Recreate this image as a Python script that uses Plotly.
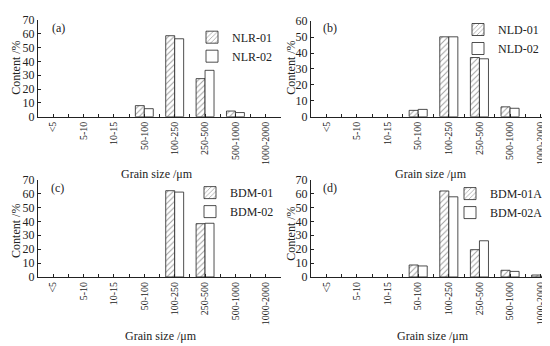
import plotly.graph_objects as go

categories = ["<5", "5-10", "10-15", "50-100", "100-250", "250-500", "500-1000", "1000-2000"]

nlr01 = [0, 0, 0, 8.0, 58.5, 27.5, 4.1, 0]
nlr02 = [0, 0, 0, 5.8, 56.3, 33.5, 3.0, 0]
nld01 = [0, 0, 0, 4.0, 50.2, 37.2, 6.2, 0]
nld02 = [0, 0, 0, 4.6, 50.2, 36.4, 5.3, 0]
bdm01 = [0, 0, 0, 0, 62.0, 38.3, 0, 0]
bdm02 = [0, 0, 0, 0, 61.0, 38.6, 0, 0]
bdm01a = [0, 0, 0, 8.6, 61.8, 19.6, 4.8, 1.4]
bdm02a = [0, 0, 0, 7.9, 57.6, 26.0, 4.0, 0.5]

panels = [
    ("(a)", "NLR-01", nlr01, "NLR-02", nlr02, 70),
    ("(b)", "NLD-01", nld01, "NLD-02", nld02, 60),
    ("(c)", "BDM-01", bdm01, "BDM-02", bdm02, 70),
    ("(d)", "BDM-01A", bdm01a, "BDM-02A", bdm02a, 70),
]

W, H = 550, 346
boxes = [
    (30, 273, 5, 106),
    (303, 548, 6.5, 106),
    (30, 273, 171.5, 273),
    (303, 548, 171.5, 273),
]
legend_pos = [(184, 8), (450, 0), (182, 170), (442, 171)]
label_pos = [(50, 14), (322, 14), (49, 180), (322, 180)]
ytitle_pos = [(8, 55), (283, 55), (8, 225), (283, 228)]
xtitle_pos = [(149, 166), (423, 166), (153, 335), (425, 335)]

SERIF = "Liberation Serif, Times New Roman, serif"
INK = "#222222"

xidx = list(range(len(categories)))


def nz(vals):
    return [v if v else None for v in vals]


fig = go.Figure()
layout = dict(
    width=W, height=H, margin=dict(l=0, r=0, t=0, b=0),
    paper_bgcolor="white", plot_bgcolor="white",
    font=dict(family=SERIF, size=12, color=INK),
    barmode="group", bargap=0.41, bargroupgap=0.0,
    annotations=[],
)

for i, (lab, n1, v1, n2, v2, ymax) in enumerate(panels):
    k = "" if i == 0 else str(i + 1)
    xa, ya = "x" + k, "y" + k
    leg = "legend" + k
    l, r, t, b = boxes[i]
    fig.add_trace(go.Bar(
        x=xidx, y=nz(v1), name=n1, xaxis=xa, yaxis=ya, legend=leg,
        marker=dict(color="white", line=dict(color=INK, width=0.8),
                    pattern=dict(shape="/", fgcolor="#444444", bgcolor="white",
                                 size=4, solidity=0.25)),
    ))
    fig.add_trace(go.Bar(
        x=xidx, y=nz(v2), name=n2, xaxis=xa, yaxis=ya, legend=leg,
        marker=dict(color="white", line=dict(color=INK, width=0.8)),
    ))
    layout["xaxis" + k] = dict(
        domain=[l / W, r / W], anchor=ya,
        range=[-0.5, 7.5], tickmode="array", tickvals=xidx, ticktext=categories,
        showline=True, linecolor=INK, linewidth=1,
        ticks="inside", ticklen=3, tickcolor=INK, tickangle=-90,
        tickfont=dict(family=SERIF, size=10, color=INK),
        minor=dict(ticks="inside", ticklen=3, tickcolor=INK, tickmode="linear",
                   tick0=0.5, dtick=1, showgrid=False),
        showgrid=False, zeroline=False, fixedrange=True,
    )
    layout["yaxis" + k] = dict(
        domain=[1 - b / H, 1 - t / H], anchor=xa,
        range=[0, ymax], dtick=10, showline=True, linecolor=INK, linewidth=1,
        ticks="inside", ticklen=3, tickcolor=INK,
        tickfont=dict(family=SERIF, size=12, color=INK),
        showgrid=False, zeroline=False, fixedrange=True,
    )
    lx, ly = legend_pos[i]
    layout[leg] = dict(
        x=lx / W, y=1 - ly / H, xanchor="left", yanchor="top",
        bgcolor="rgba(0,0,0,0)", font=dict(family=SERIF, size=12, color=INK),
        itemwidth=30, tracegroupgap=0,
    )
    px, py = label_pos[i]
    layout["annotations"].append(dict(
        x=px / W, y=1 - py / H, xref="paper", yref="paper", text=lab,
        xanchor="center", yanchor="middle",
        showarrow=False, font=dict(family=SERIF, size=12, color=INK)))
    tx, ty = ytitle_pos[i]
    layout["annotations"].append(dict(
        x=tx / W, y=1 - ty / H, xref="paper", yref="paper", text="Content /%",
        xanchor="center", yanchor="middle",
        textangle=-90, showarrow=False, font=dict(family=SERIF, size=12, color=INK)))
    gx, gy = xtitle_pos[i]
    layout["annotations"].append(dict(
        x=gx / W, y=1 - gy / H, xref="paper", yref="paper", text="Grain size /μm",
        xanchor="center", yanchor="middle",
        showarrow=False, font=dict(family=SERIF, size=12, color=INK)))

fig.update_layout(**layout)
fig.write_html("out.html")
